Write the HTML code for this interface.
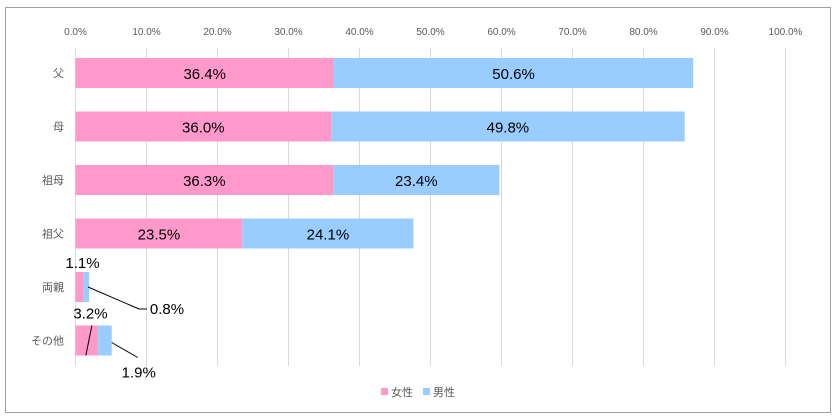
<!DOCTYPE html>
<html><head><meta charset="utf-8"><style>
body{margin:0;background:#fff;font-family:"Liberation Sans","Noto Sans CJK JP",sans-serif}
</style></head><body>
<svg id="c" width="836" height="417" xmlns="http://www.w3.org/2000/svg" style="display:block">
<rect x="5.5" y="7.5" width="825" height="405" fill="#fff" stroke="#a0a0a0"/>
<g id="grid"></g><g id="bars"></g><g id="labels"></g>
<g>
<rect x="381" y="388" width="7" height="7" fill="#ff99cc"/>
<text x="391" y="396" font-size="11" fill="#595959">女性</text>
<rect x="423" y="388" width="7" height="7" fill="#99ccff"/>
<text x="433" y="396" font-size="11" fill="#595959">男性</text>
</g>
</svg>
<script>
const categories=["父","母","祖母","祖父","両親","その他"];
const female=[36.4,36.0,36.3,23.5,1.1,3.2];
const male=[50.6,49.8,23.4,24.1,0.8,1.9];
const ticks=[0,10,20,30,40,50,60,70,80,90,100];
const NS="http://www.w3.org/2000/svg";
const x=v=>75.5+v*7.1;
const yc=i=>73+i*53.5;
const BH=30;
function mk(tag,attrs,parent,text){const e=document.createElementNS(NS,tag);for(const k in attrs)e.setAttribute(k,attrs[k]);if(text!=null)e.textContent=text;parent.appendChild(e);return e;}
const g=document.getElementById('grid'),b=document.getElementById('bars'),l=document.getElementById('labels');
ticks.forEach(t=>{
 const ln=mk('line',{x1:x(t),x2:x(t),y1:48,y2:366,stroke:'#d9d9d9'},g);
 
 
 const tx=mk('text',{x:x(t),y:35,'font-size':10,fill:'#595959','text-anchor':'middle'},g,t.toFixed(1)+'%');
 
 
});
categories.forEach((c,i)=>{
 const y0=yc(i)-BH/2;
 const cl=mk('text',{x:64,y:yc(i)+4,'font-size':11,fill:'#595959','text-anchor':'end'},l,c);
 
 
 const rf=mk('rect',{x:x(0),y:y0,width:x(female[i])-x(0),height:BH,fill:'#ff99cc'},b);
 
 
 const rm=mk('rect',{x:x(female[i]),y:y0,width:x(female[i]+male[i])-x(female[i]),height:BH,fill:'#99ccff'},b);
 
 
 const small=female[i]<5;
 let fx,fy,mx,my;
 if(!small){fx=(x(0)+x(female[i]))/2;fy=yc(i)+6;mx=(x(female[i])+x(female[i]+male[i]))/2;my=yc(i)+6;}
 else if(i===4){
  const end=x(female[i]+male[i]);
  fx=x(0)+7;fy=y0-4;mx=end+78;my=yc(i)+27;
  const ld=mk('polyline',{points:`${end-1},${yc(i)} ${end+50},${yc(i)+22} ${end+58},${yc(i)+22}`,fill:'none',stroke:'#000'},l);
  
  
 } else {
  const end=x(female[i]+male[i]);
  fx=x(0)+15;fy=y0-7;mx=end+27;my=yc(i)+37;
  const ld=mk('polyline',{points:`${end},${yc(i)+2} ${end+26},${yc(i)+17}`,fill:'none',stroke:'#000'},l);
  
  
  const l2=mk('line',{x1:x(female[i]/2)+5,y1:y0,x2:x(female[i]/2)-1,y2:y0+BH,stroke:'#000'},l);
  
  
 }
 const tf=mk('text',{x:fx,y:fy,'font-size':15,fill:'#000','text-anchor':'middle'},l,female[i].toFixed(1)+'%');
 
 
 const tm=mk('text',{x:mx,y:my,'font-size':15,fill:'#000','text-anchor':'middle'},l,male[i].toFixed(1)+'%');
 
 
});
</script>
</body></html>
